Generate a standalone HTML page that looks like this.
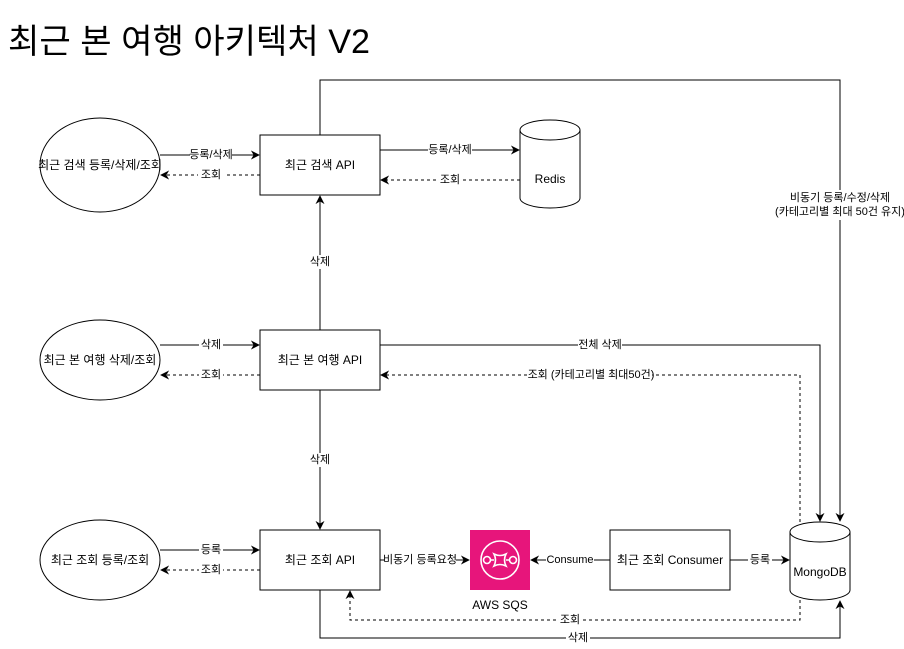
<!DOCTYPE html>
<html><head><meta charset="utf-8"><style>
html,body{margin:0;padding:0;background:#fff;}
svg{display:block;font-family:"Liberation Sans","Noto Sans CJK KR",sans-serif;}
.t{font-size:12px;text-anchor:middle;dominant-baseline:central;fill:#000}
.l{font-size:11px;text-anchor:middle;dominant-baseline:central;fill:#000}
</style></head><body>
<svg width="904" height="649" viewBox="0 0 904 649" xmlns="http://www.w3.org/2000/svg">
<defs>
<marker id="a" viewBox="0 0 10 10" refX="9" refY="5" markerWidth="9" markerHeight="9" orient="auto-start-reverse" markerUnits="userSpaceOnUse"><path d="M0,0 L10,5 L0,10 L3,5 Z" fill="#000"/></marker>
</defs>
<text x="8" y="53" font-size="34" textLength="362" lengthAdjust="spacingAndGlyphs" fill="#000">최근 본 여행 아키텍처 V2</text>

<g fill="none" stroke="#000" stroke-width="1">
<!-- row1 -->
<path d="M160 155 H259" marker-end="url(#a)"/>
<path d="M260 175 H161" stroke-dasharray="3 3" marker-end="url(#a)"/>
<path d="M380 150 H519" marker-end="url(#a)"/>
<path d="M520 180 H381" stroke-dasharray="3 3" marker-end="url(#a)"/>
<path d="M320 135 V80 H840 V521" marker-end="url(#a)"/>
<path d="M320 330 V196" marker-end="url(#a)"/>
<!-- row2 -->
<path d="M160 345 H259" marker-end="url(#a)"/>
<path d="M260 375 H161" stroke-dasharray="3 3" marker-end="url(#a)"/>
<path d="M380 345 H820 V521" marker-end="url(#a)"/>
<path d="M800 522 V375 H381" stroke-dasharray="3 3" marker-end="url(#a)"/>
<path d="M320 390 V529" marker-end="url(#a)"/>
<!-- row3 -->
<path d="M160 550 H259" marker-end="url(#a)"/>
<path d="M260 570 H161" stroke-dasharray="3 3" marker-end="url(#a)"/>
<path d="M380 560 H469" marker-end="url(#a)"/>
<path d="M610 560 H531" marker-end="url(#a)"/>
<path d="M730 560 H789" marker-end="url(#a)"/>
<path d="M800 600 V620 H350 V591" stroke-dasharray="3 3" marker-end="url(#a)"/>
<path d="M320 590 V638 H840 V601" marker-end="url(#a)"/>
</g>

<g fill="#fff" stroke="#000" stroke-width="1">
<ellipse cx="100" cy="165" rx="60" ry="47"/>
<ellipse cx="100" cy="360" rx="60" ry="40"/>
<ellipse cx="100" cy="560" rx="60" ry="40"/>
<rect x="260" y="135" width="120" height="60"/>
<rect x="260" y="330" width="120" height="60"/>
<rect x="260" y="530" width="120" height="60"/>
<rect x="610" y="530" width="120" height="60"/>
<path d="M520 130 A30 10 0 0 1 580 130 V198 A30 10 0 0 1 520 198 Z"/>
<path d="M520 130 A30 10 0 0 0 580 130"/>
<path d="M790 532 A30 10 0 0 1 850 532 V590 A30 10 0 0 1 790 590 Z"/>
<path d="M790 532 A30 10 0 0 0 850 532"/>
</g>
<rect x="470" y="530" width="60" height="60" fill="#E7157B"/>
<g fill="none" stroke="#fff" stroke-width="1.6">
<circle cx="500" cy="560" r="19"/>
<circle cx="487" cy="560" r="3.5" fill="#E7157B"/>
<circle cx="513" cy="560" r="3.5" fill="#E7157B"/>
<path d="M494 554 Q500 557 506 554 Q503 560 506 566 Q500 563 494 566 Q497 560 494 554 Z"/>
<path d="M490 560 H494 M506 560 H510"/>
</g>

<text class="t" x="100" y="165">최근 검색 등록/삭제/조회</text>
<text class="t" x="100" y="360">최근 본 여행 삭제/조회</text>
<text class="t" x="100" y="560">최근 조회 등록/조회</text>
<text class="t" x="320" y="165">최근 검색 API</text>
<text class="t" x="320" y="360">최근 본 여행 API</text>
<text class="t" x="320" y="560">최근 조회 API</text>
<text class="t" x="670" y="560">최근 조회 Consumer</text>
<text class="t" x="550" y="179">Redis</text>
<text class="t" x="820" y="572">MongoDB</text>
<text class="t" x="500" y="605">AWS SQS</text>

<g>
<rect x="190" y="148" width="42" height="14" fill="#fff"/><text class="l" x="211" y="155">등록/삭제</text>
<rect x="198" y="168" width="26" height="14" fill="#fff"/><text class="l" x="211" y="175">조회</text>
<rect x="428" y="143" width="44" height="14" fill="#fff"/><text class="l" x="450" y="150">등록/삭제</text>
<rect x="438" y="173" width="24" height="14" fill="#fff"/><text class="l" x="450" y="180">조회</text>
<rect x="778" y="190" width="124" height="30" fill="#fff"/>
<text class="l" x="840" y="198">비동기 등록/수정/삭제</text>
<text class="l" x="840" y="212">(카테고리별 최대 50건 유지)</text>
<rect x="308" y="255" width="24" height="14" fill="#fff"/><text class="l" x="320" y="262">삭제</text>
<rect x="199" y="338" width="24" height="14" fill="#fff"/><text class="l" x="211" y="345">삭제</text>
<rect x="199" y="368" width="24" height="14" fill="#fff"/><text class="l" x="211" y="375">조회</text>
<rect x="578" y="338" width="44" height="14" fill="#fff"/><text class="l" x="600" y="345">전체 삭제</text>
<rect x="530" y="368" width="122" height="14" fill="#fff"/><text class="l" x="591" y="375">조회 (카테고리별 최대50건)</text>
<rect x="308" y="453" width="24" height="14" fill="#fff"/><text class="l" x="320" y="460">삭제</text>
<rect x="199" y="543" width="24" height="14" fill="#fff"/><text class="l" x="211" y="550">등록</text>
<rect x="199" y="563" width="24" height="14" fill="#fff"/><text class="l" x="211" y="570">조회</text>
<rect x="384" y="553" width="72" height="14" fill="#fff"/><text class="l" x="420" y="560">비동기 등록요청</text>
<rect x="546" y="553" width="48" height="14" fill="#fff"/><text class="l" x="570" y="560">Consume</text>
<rect x="748" y="553" width="24" height="14" fill="#fff"/><text class="l" x="760" y="560">등록</text>
<rect x="558" y="613" width="24" height="14" fill="#fff"/><text class="l" x="570" y="620">조회</text>
<rect x="566" y="631" width="24" height="14" fill="#fff"/><text class="l" x="578" y="638">삭제</text>
</g>
</svg>
</body></html>
